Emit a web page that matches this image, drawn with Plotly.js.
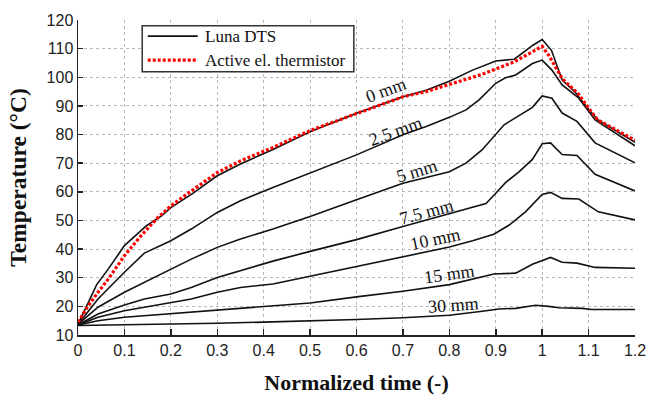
<!DOCTYPE html>
<html>
<head>
<meta charset="utf-8">
<script src="https://cdn.plot.ly/plotly-3.0.1.min.js"></script>
<style>html,body{margin:0;padding:0;background:#fff}#chart{width:647px;height:397px}</style>
</head>
<body>
<div id="chart"></div>
<script>
// Luna DTS curves (normalized time, temperature °C)
const x0mm = [0, 0.02, 0.04, 0.065, 0.1, 0.147, 0.18, 0.2, 0.245, 0.3, 0.35, 0.42, 0.5, 0.6, 0.65, 0.7, 0.75, 0.8, 0.85, 0.9, 0.94, 0.98, 1.0, 1.02, 1.043, 1.07, 1.1, 1.12, 1.2];
const y0mm = [13.7, 20.5, 27.5, 33, 41.2, 48.1, 51.6, 54.5, 59.2, 65.6, 69.7, 74.8, 81, 87.4, 90.3, 93.2, 95.5, 98.6, 102.5, 105.7, 106.3, 111.2, 113.2, 109.4, 99, 95, 88.8, 85.1, 77.3];

const x2_5mm = [0, 0.043, 0.1, 0.143, 0.2, 0.244, 0.3, 0.35, 0.42, 0.5, 0.6, 0.7, 0.75, 0.8, 0.836, 0.864, 0.9, 0.921, 0.943, 0.979, 1.0, 1.021, 1.043, 1.079, 1.114, 1.2];
const y2_5mm = [13.7, 22.6, 31.9, 38.6, 42.9, 47, 52.8, 56.9, 61.5, 66.5, 72.9, 79.9, 82.8, 86, 88.6, 92.1, 97.9, 99.8, 100.8, 104.8, 106, 102.5, 97.3, 92.7, 85.1, 76.1];

const x5mm = [0, 0.043, 0.1, 0.143, 0.2, 0.244, 0.3, 0.35, 0.42, 0.5, 0.6, 0.7, 0.8, 0.836, 0.871, 0.9, 0.918, 0.979, 1.0, 1.021, 1.043, 1.075, 1.114, 1.2];
const y5mm = [13.7, 19.7, 24.9, 28.4, 32.8, 36.5, 40.6, 43.5, 47, 51.4, 57.2, 63, 67, 70, 74.7, 80, 83.4, 89.5, 93.5, 92.7, 87.5, 84.6, 77.1, 70.1];

const x7_5mm = [0, 0.043, 0.1, 0.143, 0.2, 0.244, 0.3, 0.35, 0.42, 0.5, 0.6, 0.7, 0.8, 0.843, 0.879, 0.9, 0.921, 0.95, 0.979, 1.0, 1.018, 1.043, 1.075, 1.114, 1.2];
const y7_5mm = [13.5, 17.3, 20.5, 22.6, 24.3, 26.6, 30.1, 32.4, 35.8, 39.2, 43.3, 47.9, 52.3, 54.2, 55.9, 59.5, 63.2, 67, 71.3, 76.8, 77.1, 73, 72.7, 66.1, 60.3];

const x10mm = [0, 0.043, 0.1, 0.158, 0.2, 0.244, 0.3, 0.35, 0.42, 0.5, 0.6, 0.7, 0.8, 0.85, 0.896, 0.929, 0.964, 1.0, 1.018, 1.043, 1.079, 1.121, 1.2];
const y10mm = [13.5, 16.2, 18.5, 20.2, 21.2, 22.6, 24.9, 26.6, 27.8, 30.5, 34, 37.5, 40.7, 42.9, 45.2, 48.4, 53, 59.1, 59.8, 57.7, 57.5, 53, 50.2];

const x15mm = [0, 0.043, 0.1, 0.2, 0.3, 0.4, 0.5, 0.6, 0.7, 0.8, 0.85, 0.896, 0.943, 0.979, 1.018, 1.043, 1.075, 1.114, 1.2];
const y15mm = [13.5, 15, 16.2, 17.5, 18.7, 19.9, 21.2, 23.3, 25.3, 27.6, 29.6, 31.3, 31.6, 34.7, 37.1, 35.4, 35.1, 33.6, 33.3];

const x30mm = [0, 0.1, 0.2, 0.3, 0.4, 0.5, 0.6, 0.7, 0.8, 0.871, 0.907, 0.943, 0.986, 1.014, 1.036, 1.086, 1.107, 1.2];
const y30mm = [13.3, 13.5, 13.8, 14.1, 14.5, 14.9, 15.4, 16, 16.9, 18.3, 19.1, 19.3, 20.4, 20.0, 19.5, 19.3, 18.9, 18.9];

// Active electrical thermistor
const xTherm = [0, 0.02, 0.043, 0.065, 0.1, 0.136, 0.172, 0.2, 0.244, 0.3, 0.35, 0.42, 0.5, 0.6, 0.7, 0.75, 0.8, 0.87, 0.94, 0.98, 1.0, 1.014, 1.043, 1.08, 1.1, 1.12, 1.2];
const yTherm = [14.5, 19.7, 24.9, 29.5, 37.7, 44.7, 51, 55.1, 60.3, 66.7, 70.8, 75.5, 81.4, 87.4, 93.2, 95, 97.5, 101, 105.4, 108.8, 110.8, 107.7, 99.6, 93.8, 89.2, 85.1, 78];

// Curve labels
const labelText = ["0 mm", "2.5 mm", "5 mm", "7.5 mm", "10 mm", "15 mm", "30 mm"];
const labelX = [0.664, 0.685, 0.73, 0.75, 0.771, 0.8, 0.81];
const labelY = [95.6, 81.2, 67.3, 52.9, 43.6, 31.4, 20.6];
const labelAngle = [-20, -20, -17, -15, -12, -8, -4];

// Legend entries
const legendNames = ["Luna DTS", "Active el. thermistor"];

const xTicks = [0, 0.1, 0.2, 0.3, 0.4, 0.5, 0.6, 0.7, 0.8, 0.9, 1, 1.1, 1.2];
const xTickText = ["0", "0.1", "0.2", "0.3", "0.4", "0.5", "0.6", "0.7", "0.8", "0.9", "1", "1.1", "1.2"];

const lunaX = [x0mm, x2_5mm, x5mm, x7_5mm, x10mm, x15mm, x30mm];
const lunaY = [y0mm, y2_5mm, y5mm, y7_5mm, y10mm, y15mm, y30mm];

const serif = "Liberation Serif";
const sans = "Liberation Sans";
const blackLine = {color: '#111111', width: 1.6};
const redLine = {color: '#ff0000', width: 3.2, dash: '3px,2px'};

const traces = lunaX.map((xs, i) => ({
  x: xs, y: lunaY[i], type: 'scatter', mode: 'lines',
  name: legendNames[0], showlegend: false, line: blackLine
}));
traces.push({
  x: xTherm, y: yTherm, type: 'scatter', mode: 'lines',
  name: legendNames[1], showlegend: false, line: redLine
});

const annotations = labelText.map((t, i) => ({
  x: labelX[i], y: labelY[i], xref: 'x', yref: 'y', text: t, showarrow: false,
  textangle: labelAngle[i], font: {family: serif, size: 18, color: '#111'}
}));

// Legend box drawn in paper coordinates
const leg = {x0: 0.1153, x1: 0.4952, y0: 0.836, y1: 0.982, sx0: 0.1252, sx1: 0.2150, tx: 0.2240, rows: [0.9487, 0.8727]};
const shapes = [
  {type: 'rect', xref: 'paper', yref: 'paper', x0: leg.x0, x1: leg.x1, y0: leg.y0, y1: leg.y1,
   line: {color: '#333', width: 1.5}, fillcolor: '#fff', layer: 'above'},
  {type: 'line', xref: 'paper', yref: 'paper', x0: leg.sx0, x1: leg.sx1, y0: leg.rows[0], y1: leg.rows[0], line: blackLine, layer: 'above'},
  {type: 'line', xref: 'paper', yref: 'paper', x0: leg.sx0, x1: leg.sx1, y0: leg.rows[1], y1: leg.rows[1], line: redLine, layer: 'above'}
];
legendNames.forEach((n, i) => annotations.push({
  x: leg.tx, y: leg.rows[i], xref: 'paper', yref: 'paper', xanchor: 'left', yanchor: 'middle',
  text: n, showarrow: false, font: {family: serif, size: 17, color: '#111'}
}));

const layout = {
  width: 647, height: 397,
  margin: {l: 78.3, r: 12, t: 19.8, b: 61.5},
  paper_bgcolor: '#fff', plot_bgcolor: '#fff',
  showlegend: false,
  xaxis: {
    range: [0, 1.2], tickvals: xTicks, ticktext: xTickText,
    showgrid: true, gridcolor: '#b8b8b8', griddash: 'dot', gridwidth: 1,
    showline: true, linecolor: '#222', linewidth: 1.5,
    ticks: 'inside', ticklen: 6, tickcolor: '#222', tickwidth: 1.5,
    zeroline: false, ticklabeloverflow: 'allow',
    tickfont: {family: sans, size: 16, color: '#222'},
    title: {text: 'Normalized time (-)', font: {family: serif, size: 22, color: '#111', weight: 'bold'}, standoff: 17}
  },
  yaxis: {
    range: [10, 120], dtick: 10,
    showgrid: true, gridcolor: '#b8b8b8', griddash: 'dot', gridwidth: 1,
    showline: true, linecolor: '#222', linewidth: 1.5,
    ticks: 'inside', ticklen: 5, tickcolor: '#222', tickwidth: 1.5,
    zeroline: false,
    tickfont: {family: sans, size: 16, color: '#222'},
    title: {text: 'Temperature (°C)', font: {family: serif, size: 23.5, color: '#111', weight: 'bold'}, standoff: 13}
  },
  shapes: shapes,
  annotations: annotations
};

Plotly.newPlot('chart', traces, layout, {staticPlot: true, displayModeBar: false});
</script>
</body>
</html>
